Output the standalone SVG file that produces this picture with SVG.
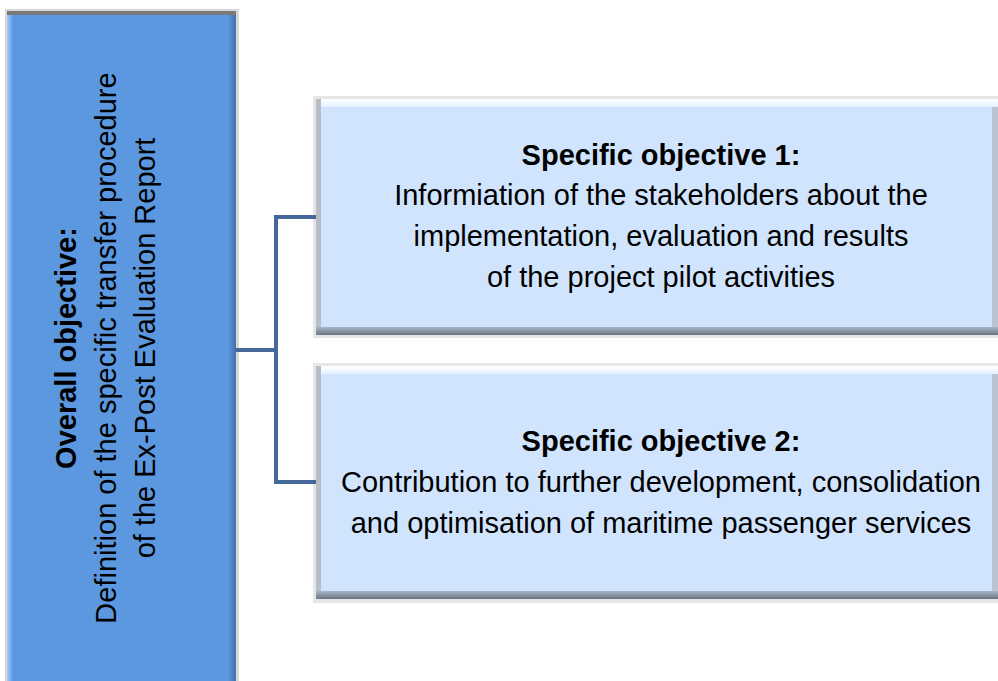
<svg xmlns="http://www.w3.org/2000/svg" width="998" height="681" viewBox="0 0 998 681">
<style>
text{font-family:"Liberation Sans",Arial,sans-serif;font-size:29px;fill:#000;text-anchor:middle}
.b{font-weight:bold}
.conn{fill:none;stroke:#45689B;stroke-width:4;stroke-linejoin:miter}
.sub{fill:#D0E4FD}
.main{fill:#5C98DF}
</style>
<defs>
<linearGradient id="gl" x1="0" y1="0" x2="1" y2="0">
<stop offset="0" stop-color="#A5CDF8"/><stop offset="1" stop-color="#5C98DF"/>
</linearGradient>
<linearGradient id="gr" x1="0" y1="0" x2="1" y2="0">
<stop offset="0" stop-color="#5C98DF"/><stop offset="1" stop-color="#3F6EA8"/>
</linearGradient>
<linearGradient id="sb" x1="0" y1="0" x2="0" y2="1">
<stop offset="0" stop-color="#A9B6C6"/><stop offset="1" stop-color="#6B7684"/>
</linearGradient>
<linearGradient id="st" x1="0" y1="0" x2="0" y2="1">
<stop offset="0" stop-color="#FFFFFF"/><stop offset="1" stop-color="#E3F0FE"/>
</linearGradient>
</defs>
<g id="overall">
<rect x="5" y="9" width="234" height="680" fill="#D8D8D8"/>
<rect x="7" y="11" width="229" height="680" class="main"/>
<rect x="7" y="11" width="229" height="4" fill="#7A7A7A"/>
<rect x="7" y="15" width="6" height="670" fill="url(#gl)"/>
<rect x="228" y="15" width="8" height="670" fill="url(#gr)"/>
<text transform="translate(76,348) rotate(-90)" class="b">Overall objective:</text>
<text transform="translate(116,348) rotate(-90)">Definition of the specific transfer procedure</text>
<text transform="translate(155,348) rotate(-90)">of the Ex-Post Evaluation Report</text>
</g>
<g id="obj1">
<rect x="313" y="96" width="690" height="242" fill="#E6E6E6"/>
<rect x="316" y="99" width="690" height="236" class="sub"/>
<rect x="316" y="99" width="690" height="8" fill="url(#st)"/>
<rect x="316" y="99" width="5" height="236" fill="#B8BEC6"/>
<rect x="316" y="327" width="690" height="8" fill="url(#sb)"/>
<rect x="992" y="107" width="6" height="220" fill="#B9C4D2"/>
<text x="661" y="165" class="b">Specific objective 1:</text>
<text x="661" y="205">Informiation of the stakeholders about the</text>
<text x="661" y="246">implementation, evaluation and results</text>
<text x="661" y="287">of the project pilot activities</text>
</g>
<g id="obj2">
<rect x="313" y="363" width="690" height="240" fill="#E6E6E6"/>
<rect x="316" y="366" width="690" height="233" class="sub"/>
<rect x="316" y="366" width="690" height="8" fill="url(#st)"/>
<rect x="316" y="366" width="5" height="233" fill="#B8BEC6"/>
<rect x="316" y="591" width="690" height="8" fill="url(#sb)"/>
<rect x="992" y="374" width="6" height="217" fill="#B9C4D2"/>
<text x="661" y="451" class="b">Specific objective 2:</text>
<text x="661" y="492">Contribution to further development, consolidation</text>
<text x="661" y="533">and optimisation of maritime passenger services</text>
</g>
<g id="connectors">
<path class="conn" d="M236 350 H276"/>
<path class="conn" d="M316 217 H276 V482 H316"/>
</g>
</svg>
